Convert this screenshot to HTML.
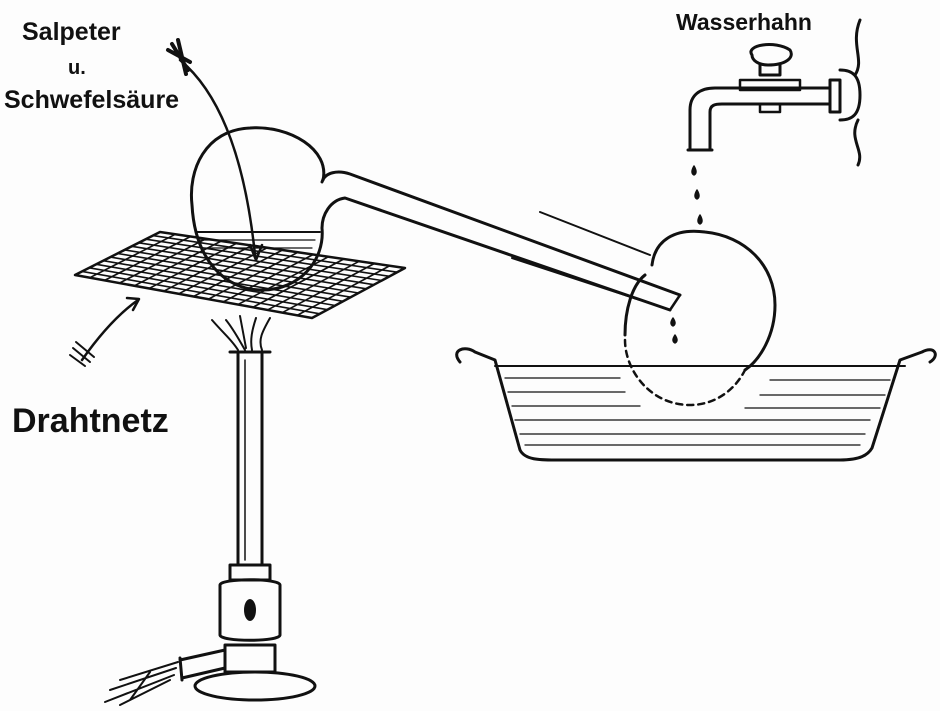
<!DOCTYPE html>
<html><head><meta charset="utf-8"><style>
html,body{margin:0;padding:0;background:#fdfdfd;}
svg{display:block}
text{font-family:"Liberation Sans",sans-serif;fill:#111;font-weight:bold}
</style></head><body>
<svg width="940" height="711" viewBox="0 0 940 711" xmlns="http://www.w3.org/2000/svg" fill="none" stroke="#111" stroke-width="3" stroke-linecap="round" stroke-linejoin="round">
<rect x="0" y="0" width="940" height="711" fill="#fdfdfd" stroke="none"/>
<text x="22" y="40" font-size="25" stroke="none">Salpeter</text>
<text x="68" y="74" font-size="20" stroke="none">u.</text>
<text x="4" y="108" font-size="25" stroke="none">Schwefelsäure</text>
<text x="676" y="30" font-size="23" stroke="none">Wasserhahn</text>
<text x="12" y="432" font-size="34" stroke="none">Drahtnetz</text>

<path d="M180 60 Q240 110 255 255" stroke-width="2.5"/>
<path d="M250 245 L256 260 L262 245" stroke-width="2.5"/>
<path d="M168 50 L190 62 M172 44 L188 70 M178 40 L186 74" stroke-width="4"/>

<g stroke-width="1.6">
<path d="M75 275 L160 232 L405 268 L312 318 Z" stroke-width="2.5"/>
<path d="M89.8 277.7 L175.3 234.3 M104.6 280.4 L190.6 236.5 M119.4 283.1 L205.9 238.8 M134.3 285.8 L221.3 241 M149.1 288.4 L236.6 243.3 M163.9 291.1 L251.9 245.5 M178.7 293.8 L267.2 247.8 M193.5 296.5 L282.5 250 M208.3 299.2 L297.8 252.3 M223.1 301.9 L313.1 254.5 M237.9 304.6 L328.4 256.8 M252.8 307.3 L343.8 259 M267.6 309.9 L359.1 261.3 M282.4 312.6 L374.4 263.5 M297.2 315.3 L389.7 265.8"/>
<path d="M82.1 271.4 L319.8 313.8 M89.2 267.8 L327.5 309.7 M96.3 264.3 L335.3 305.5 M103.3 260.7 L343 301.3 M110.4 257.1 L350.8 297.2 M117.5 253.5 L358.5 293 M124.6 249.9 L366.3 288.8 M131.7 246.3 L374 284.7 M138.8 242.8 L381.8 280.5 M145.8 239.2 L389.5 276.3 M152.9 235.6 L397.3 272.2"/>
</g>
<path d="M138 300 Q110 320 82 360" stroke-width="2.5"/>
<path d="M127 298 L139 299 L133 310" stroke-width="2.5"/>
<path d="M70 355 L85 366 M73 348 L90 362 M76 342 L94 357" stroke-width="2"/>

<path d="M323 180 C330 150 290 125 250 128 C205 130 188 170 192 205 C195 260 225 290 262 290 C300 290 325 260 322 228" stroke-width="3"/>
<path d="M196 232 L320 232" stroke-width="2"/>
<path d="M200 240 L315 240 M205 248 L312 248" stroke-width="1.2"/>
<path d="M322 182 C325 172 338 170 350 174 L680 295" stroke-width="3"/>
<path d="M322 228 C322 215 330 200 345 198 L670 310" stroke-width="3"/>
<path d="M680 295 L670 310" stroke-width="2.5"/>

<path d="M652 265 C655 240 675 228 705 232 C745 236 775 265 775 305 C775 335 760 360 745 370" stroke-width="3"/>
<path d="M625 335 C625 310 632 285 645 275" stroke-width="3"/>
<path d="M625 340 C625 370 650 405 690 405 C715 405 735 390 745 370" stroke-width="2.5" stroke-dasharray="6 5"/>
<path d="M540 212 L650 255 M512 258 L640 300" stroke-width="2"/>
<path d="M673 318 q-4 6 0 8 q4 -2 0 -8 Z M675 335 q-4 6 0 8 q4 -2 0 -8 Z" fill="#111" stroke-width="1.5"/>
<path d="M694 166 q-4 7 0 9 q4 -2 0 -9 Z M697 190 q-4 7 0 9 q4 -2 0 -9 Z M700 215 q-4 7 0 9 q4 -2 0 -9 Z" fill="#111" stroke-width="1.5"/>

<path d="M460 362 C450 350 465 345 475 352 L495 360 L520 450 C525 460 540 460 555 460 L840 460 C860 460 868 455 872 448 L900 360 L922 352 C935 345 940 356 930 362" stroke-width="3"/>
<path d="M495 366 L905 366" stroke-width="2"/>
<g stroke-width="1.3">
<path d="M505 378 L620 378 M770 380 L890 380 M508 392 L625 392 M760 395 L885 395 M512 406 L640 406 M745 408 L880 408 M515 420 L870 420 M520 434 L865 434 M525 445 L860 445"/>
</g>

<path d="M752 55 C745 45 775 40 790 50 C795 58 785 65 768 65 C758 65 752 60 752 55 Z" stroke-width="3"/>
<path d="M760 65 L760 75 L780 75 L780 65" stroke-width="3"/>
<path d="M740 80 L800 80 L800 90 L740 90 Z" stroke-width="2.5"/>
<path d="M690 150 L690 110 C690 95 700 88 715 88 L830 88 M710 150 L710 112 C710 105 715 104 722 104 L830 104" stroke-width="3"/>
<path d="M688 150 L712 150" stroke-width="3"/>
<path d="M760 104 L760 112 L780 112 L780 104" stroke-width="2.5"/>
<path d="M830 80 L830 112 L840 112 L840 80 Z M840 70 C852 70 860 75 860 95 C860 115 852 120 840 120" stroke-width="3"/>
<path d="M860 20 C850 45 865 60 855 75 M858 120 C848 140 865 150 858 165" stroke-width="3"/>

<path d="M212 320 C225 335 232 340 238 350 M270 318 C262 332 258 340 262 350 M226 320 C234 330 238 338 245 350 M256 318 C252 330 250 340 252 350 M240 316 L246 348" stroke-width="2"/>
<path d="M238 352 L238 565 M262 352 L262 565" stroke-width="3"/>
<path d="M245 360 L245 560" stroke-width="1.5"/>
<path d="M230 352 L270 352" stroke-width="3"/>
<path d="M230 565 L270 565 L270 580 L230 580 Z" stroke-width="3"/>
<path d="M220 585 C220 578 280 578 280 585 L280 635 C280 642 220 642 220 635 Z" stroke-width="3"/>
<ellipse cx="250" cy="610" rx="6" ry="11" fill="#111" stroke="none"/>
<path d="M225 645 L275 645 L275 672 L225 672 Z" stroke-width="3"/>
<ellipse cx="255" cy="686" rx="60" ry="14" stroke-width="3"/>
<path d="M225 650 L180 660 M225 668 L182 678 M180 658 L182 680" stroke-width="3"/>
<path d="M178 662 L120 680 M176 668 L110 690 M174 675 L105 702 M170 680 L120 705 M150 672 L130 700" stroke-width="2"/>
</svg>
</body></html>
